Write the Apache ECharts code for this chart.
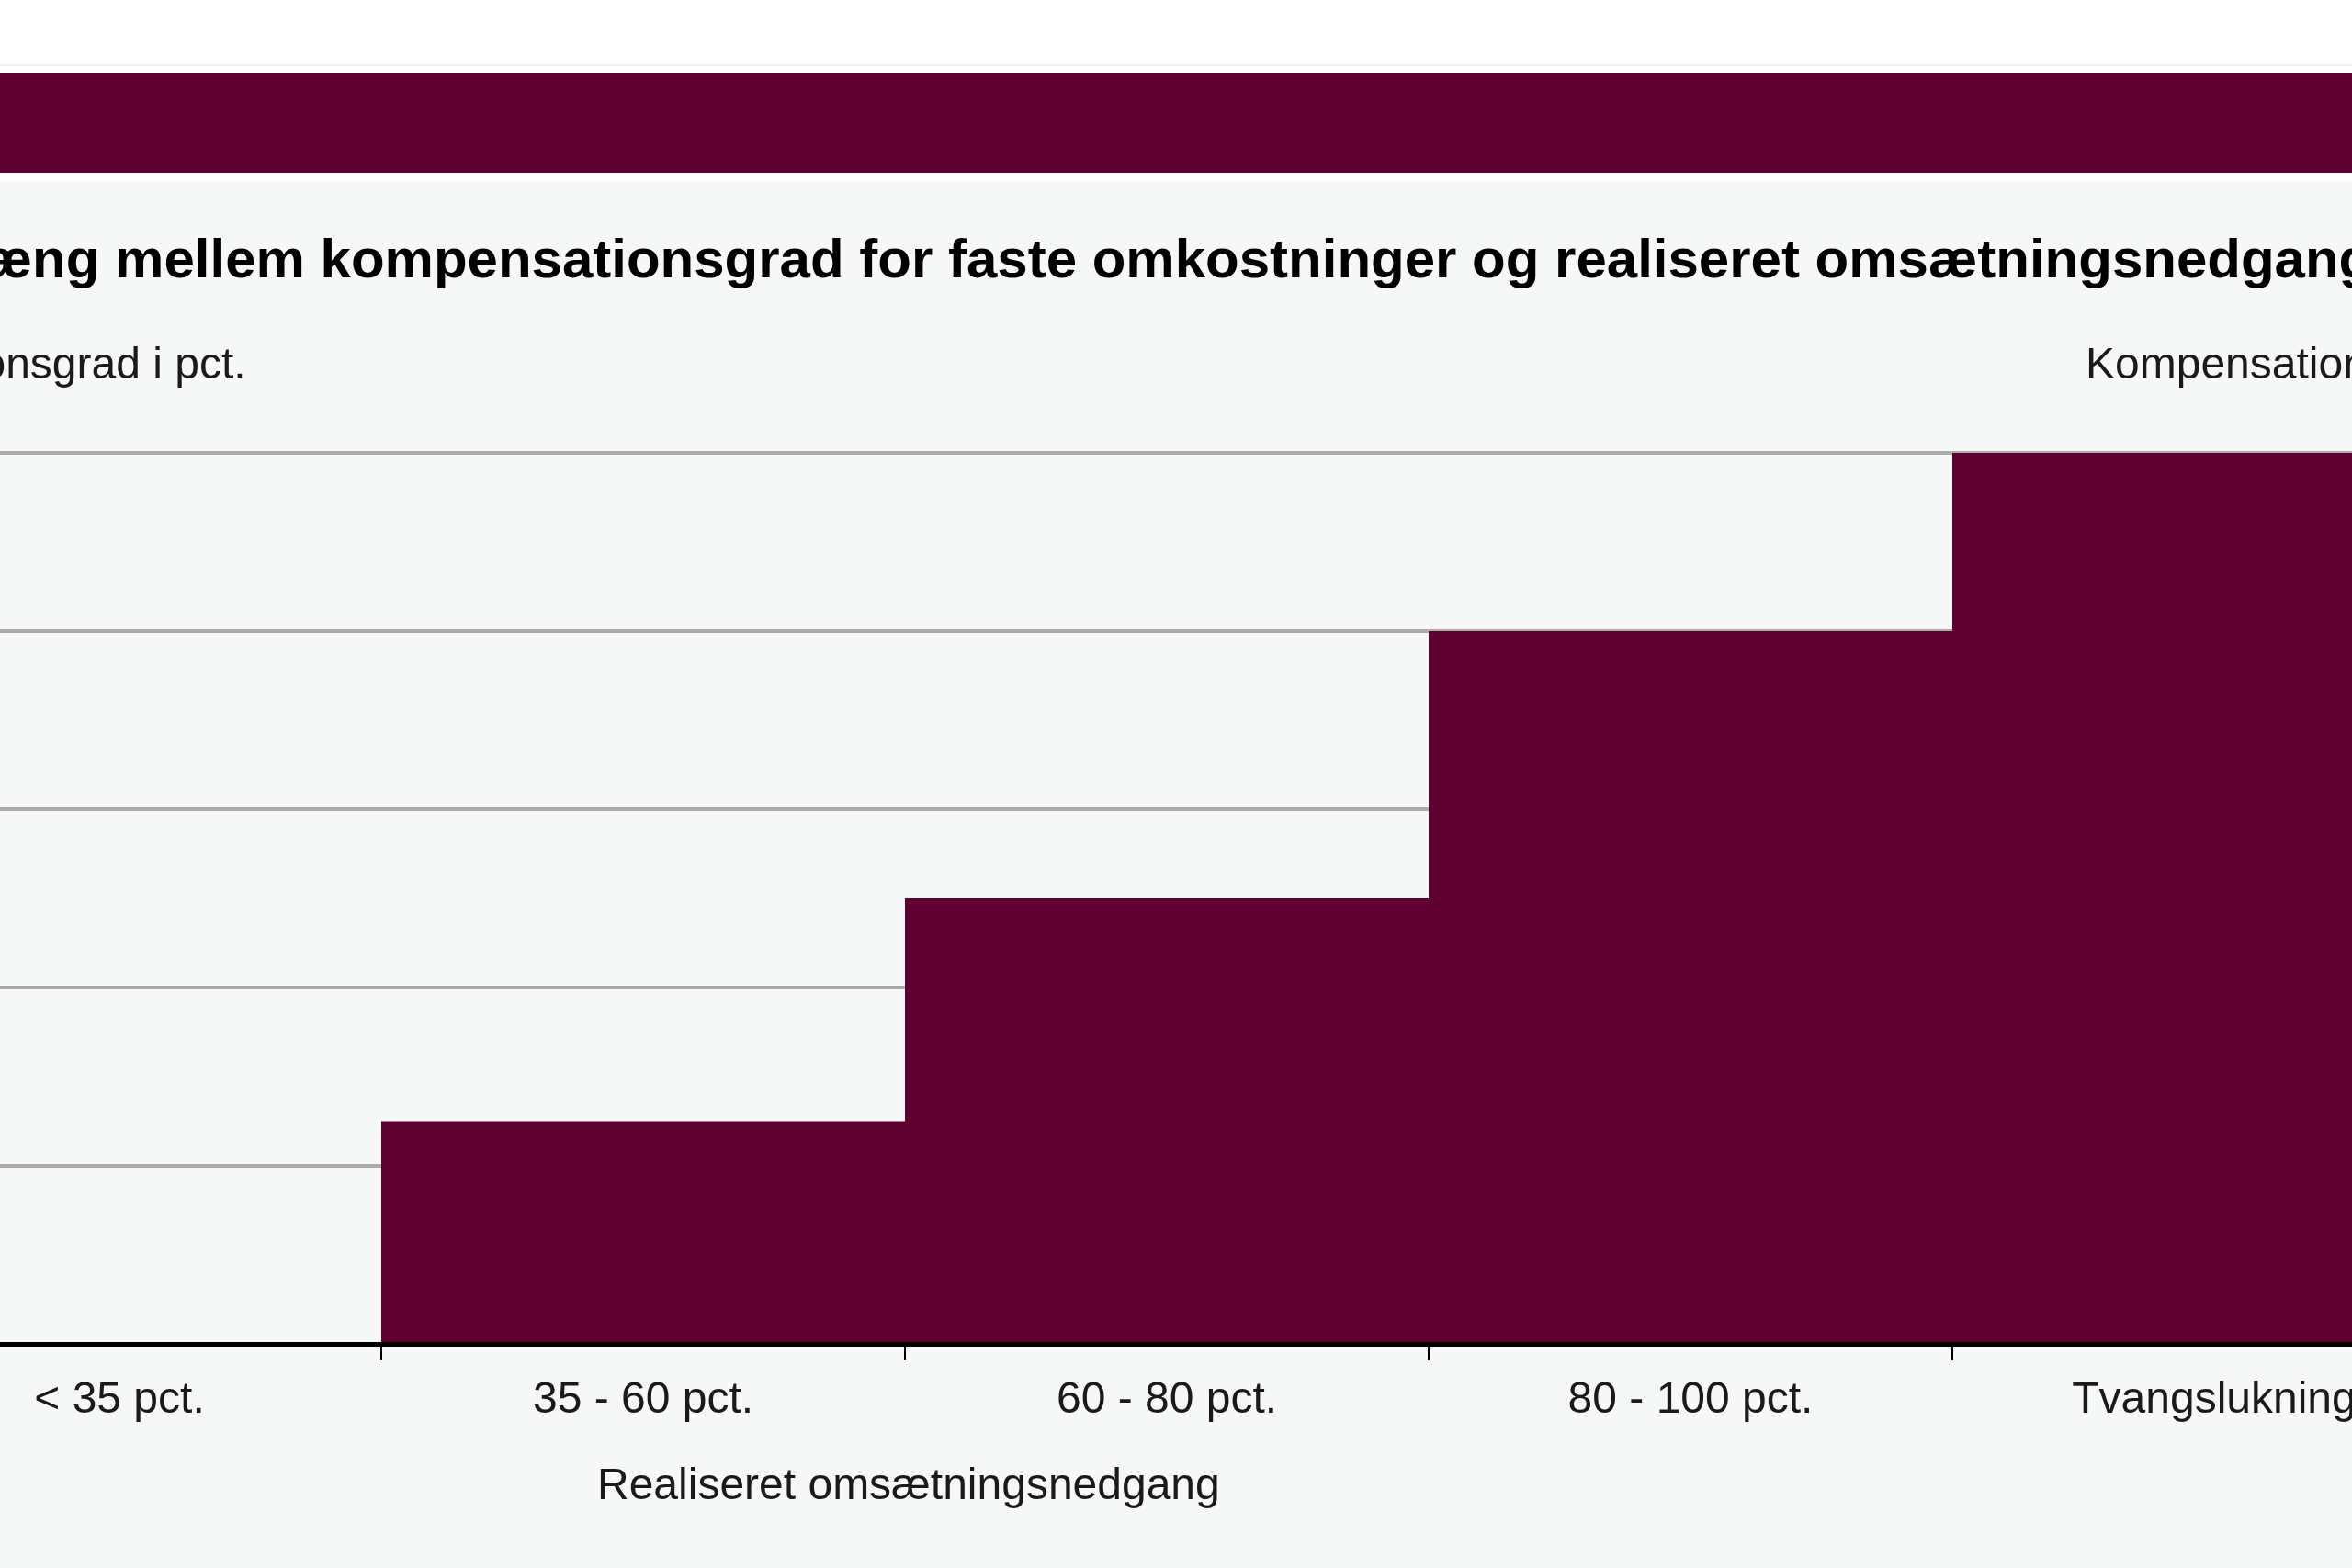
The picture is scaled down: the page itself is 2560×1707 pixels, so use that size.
<!DOCTYPE html>
<html>
<head>
<meta charset="utf-8">
<script src="https://cdn.jsdelivr.net/npm/echarts@6/dist/echarts.min.js"></script>
<style>
  html, body { margin: 0; padding: 0; width: 2560px; height: 1707px; overflow: hidden; background: #ffffff; }
  #topline { position: absolute; left: 0; top: 70px; width: 2560px; height: 2px; background: #f0f0f0; }
  #band { position: absolute; left: 0; top: 80px; width: 2560px; height: 108px; background: #5e0030; }
  #chart { position: absolute; left: -320px; top: 197px; width: 3170px; height: 1510px; }
</style>
</head>
<body>
<div id="topline"></div>
<div id="band"></div>
<div id="chart"></div>
<script>
// ---- data ----
const categories = ['< 35 pct.', '35 - 60 pct.', '60 - 80 pct.', '80 - 100 pct.', 'Tvangslukning'];
const compensation = [0, 25, 50, 80, 100];
const yMin = 0;
const yMax = 100;
const yStep = 20;
const titleText = 'Sammenhæng mellem kompensationsgrad for faste omkostninger og realiseret omsætningsnedgang';
const yAxisTitle = 'Kompensationsgrad i pct.';
const xAxisTitle = 'Realiseret omsætningsnedgang';

const FONT = "'Liberation Sans', Arial, Helvetica, sans-serif";
const MAROON = '#5e0030';

const chart = echarts.init(document.getElementById('chart'), null, { renderer: 'canvas' });
chart.setOption({
  backgroundColor: '#f6f7f7',
  animation: false,
  title: [
    { text: titleText, left: 15, top: 58, padding: 0,
      textStyle: { fontFamily: FONT, fontSize: 60, fontWeight: 'bold', color: '#000000' } },
    { text: yAxisTitle, left: 46, top: 178, padding: 0,
      textStyle: { fontFamily: FONT, fontSize: 48, fontWeight: 'normal', color: '#1a1a1a' } },
    { text: yAxisTitle, left: 2590, top: 178, padding: 0,
      textStyle: { fontFamily: FONT, fontSize: 48, fontWeight: 'normal', color: '#1a1a1a' } },
    { text: xAxisTitle, left: 970, top: 1398, padding: 0,
      textStyle: { fontFamily: FONT, fontSize: 48, fontWeight: 'normal', color: '#1a1a1a' } }
  ],
  grid: { left: 165, right: 155, top: 296, bottom: 244, containLabel: false, outerBoundsMode: 'none' },
  xAxis: {
    type: 'category',
    data: categories,
    z: 10,
    axisLine: { show: true, lineStyle: { color: '#000000', width: 5 } },
    axisTick: { show: true, length: 18, lineStyle: { color: '#000000', width: 2 } },
    axisLabel: { fontFamily: FONT, fontSize: 48, color: '#1a1a1a', margin: 38, interval: 0 },
    splitLine: { show: false }
  },
  yAxis: [
    {
      type: 'value', min: yMin, max: yMax, interval: yStep, position: 'left',
      axisLine: { show: false }, axisTick: { show: false },
      axisLabel: { fontFamily: FONT, fontSize: 48, color: '#1a1a1a', margin: 20 },
      splitLine: { show: true, lineStyle: { color: '#ababab', width: 4 } }
    },
    {
      type: 'value', min: yMin, max: yMax, interval: yStep, position: 'right',
      axisLine: { show: false }, axisTick: { show: false },
      axisLabel: { fontFamily: FONT, fontSize: 48, color: '#1a1a1a', margin: 20 },
      splitLine: { show: false }
    }
  ],
  series: [{
    type: 'bar',
    name: yAxisTitle,
    data: compensation,
    yAxisIndex: 0,
    barCategoryGap: '0%',
    itemStyle: { color: MAROON },
    z: 3
  }]
});
</script>
</body>
</html>
